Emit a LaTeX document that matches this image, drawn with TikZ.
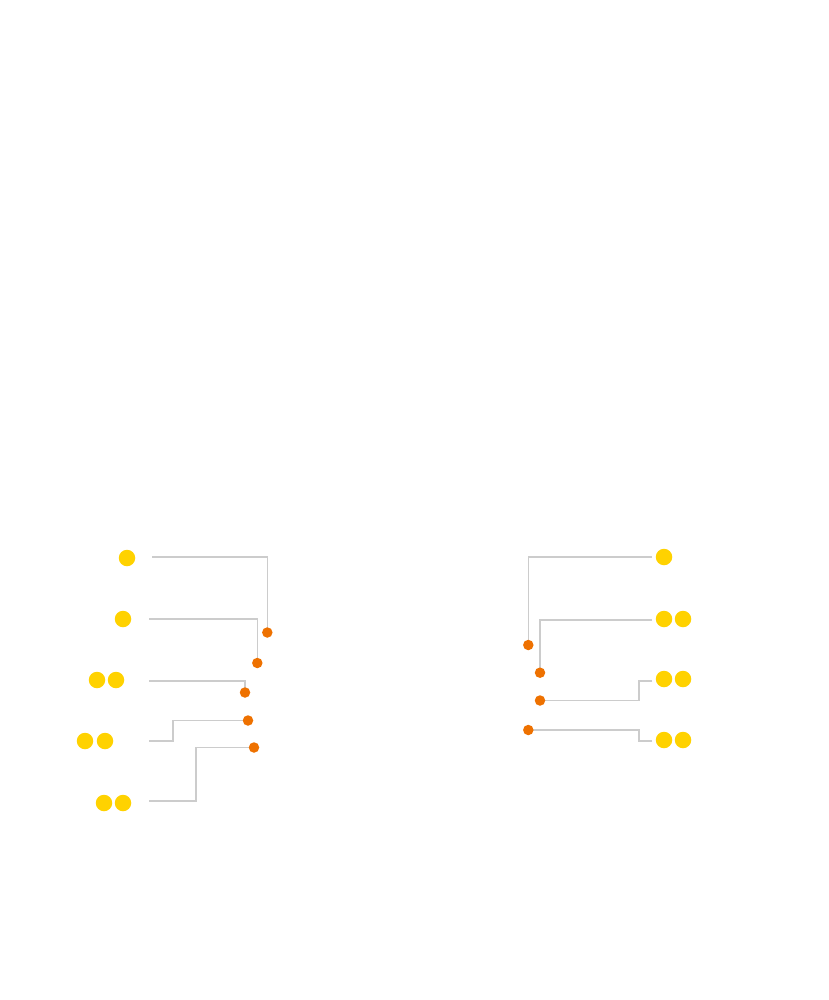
\documentclass[tikz,border=0pt]{standalone}
\begin{document}
\begin{tikzpicture}[x=1pt,y=-1pt,
  yel/.style={circle,fill={rgb,255:red,255;green,210;blue,0},inner sep=0pt,minimum size=16.5pt},
  org/.style={circle,fill={rgb,255:red,238;green,113;blue,0},inner sep=0pt,minimum size=10.5pt},
  conn/.style={draw={rgb,255:red,204;green,204;blue,204},line width=1.2pt}]
\useasboundingbox (0,0) rectangle (828,1000);
% left yellow dots
\node[yel] (l1a) at (127,558) {};
\node[yel] (l2a) at (123,619) {};
\node[yel] (l3a) at (97,680) {};
\node[yel] (l3b) at (116,680) {};
\node[yel] (l4a) at (85,741) {};
\node[yel] (l4b) at (105,741) {};
\node[yel] (l5a) at (104,803) {};
\node[yel] (l5b) at (123,803) {};
% right yellow dots
\node[yel] (r1a) at (664,557) {};
\node[yel] (r2a) at (664,619) {};
\node[yel] (r2b) at (683,619) {};
\node[yel] (r3a) at (664,679) {};
\node[yel] (r3b) at (683,679) {};
\node[yel] (r4a) at (664,740) {};
\node[yel] (r4b) at (683,740) {};
% line start coordinates
\coordinate (sl1) at (152,557);
\coordinate (sl2) at (149,619);
\coordinate (sl3) at (149,681);
\coordinate (sl4) at (149,741);
\coordinate (sl5) at (149,801);
\coordinate (sr1) at (652,557);
\coordinate (sr2) at (652,620);
\coordinate (sr3) at (652,681);
\coordinate (sr4) at (652,741);
% orange dot positions
\coordinate (pl1) at (267.3,632.5);
\coordinate (pl2) at (257.3,663);
\coordinate (pl3) at (245,692.5);
\coordinate (pl4) at (248,720.5);
\coordinate (pl5) at (254,747.5);
\coordinate (pr1) at (528.3,645);
\coordinate (pr2) at (540,672.7);
\coordinate (pr3) at (540,700.5);
\coordinate (pr4) at (528.3,730);
% connectors
\draw[conn] (sl1) -| (pl1);
\draw[conn] (sl2) -| (pl2);
\draw[conn] (sl3) -| (pl3);
\draw[conn] (sl4) -- (173,741) |- (pl4);
\draw[conn] (sl5) -- (196,801) |- (pl5);
\draw[conn] (sr1) -| (pr1);
\draw[conn] (sr2) -| (pr2);
\draw[conn] (sr3) -- (639,681) |- (pr3);
\draw[conn] (sr4) -- (639,741) |- (pr4);
% orange dots
\foreach \n in {l1,l2,l3,l4,l5,r1,r2,r3,r4}
  \node[org] (o\n) at (p\n) {};
\end{tikzpicture}
\end{document}
